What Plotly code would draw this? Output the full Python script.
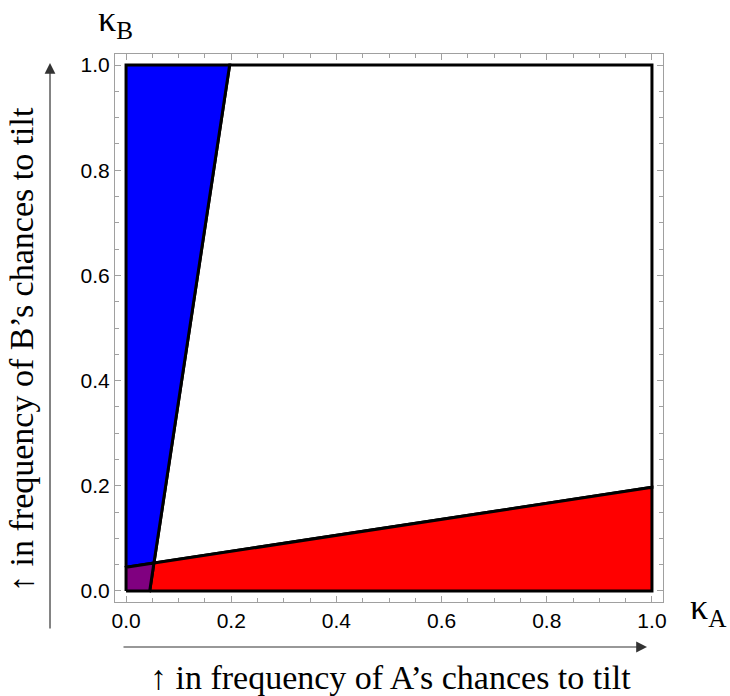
import plotly.graph_objects as go

# Region polygons (kappa_A, kappa_B)
purple_x = [0.0, 0.045, 0.053, 0.0, 0.0]
purple_y = [0.0, 0.0, 0.053, 0.045, 0.0]
blue_x = [0.0, 0.053, 0.197, 0.0, 0.0]
blue_y = [0.045, 0.053, 1.0, 1.0, 0.045]
red_x = [0.045, 1.0, 1.0, 0.053, 0.045]
red_y = [0.0, 0.0, 0.197, 0.053, 0.0]
white_x = [0.053, 0.197, 1.0, 1.0, 0.053]
white_y = [0.053, 1.0, 1.0, 0.197, 0.053]

tick_vals = [0.0, 0.2, 0.4, 0.6, 0.8, 1.0]
tick_text = ["0.0", "0.2", "0.4", "0.6", "0.8", "1.0"]

fig = go.Figure()
for xs, ys, col in [(white_x, white_y, "#FFFFFF"),
                    (blue_x, blue_y, "#0000FF"),
                    (red_x, red_y, "#FF0000"),
                    (purple_x, purple_y, "#800080")]:
    fig.add_trace(go.Scatter(x=xs, y=ys, mode="lines", fill="toself",
                             fillcolor=col, line=dict(color="black", width=3),
                             hoverinfo="skip", showlegend=False))

axis_common = dict(
    range=[-0.021, 1.021], showgrid=False, zeroline=False,
    showline=True, linecolor="#a0a0a0", linewidth=1, mirror="allticks",
    ticks="inside", ticklen=6, tickcolor="#a0a0a0", tickwidth=1,
    tickvals=tick_vals, ticktext=tick_text,
    tickfont=dict(family="Liberation Sans", size=21, color="black"),
    minor=dict(ticks="inside", ticklen=4, dtick=0.05, tick0=0,
               tickcolor="#a0a0a0", tickwidth=1, showgrid=False),
)
fig.update_xaxes(**axis_common)
fig.update_yaxes(**axis_common)

serif = dict(family="Liberation Serif", size=34, color="black")
kfont = dict(family="Liberation Serif", size=36, color="black")
fig.update_layout(
    width=730, height=696,
    margin=dict(l=115, r=67, t=54, b=94),
    plot_bgcolor="white", paper_bgcolor="white",
    hovermode=False,
    annotations=[
        dict(text="κ<sub>A</sub>", xref="paper", yref="paper", x=1.082, y=-0.013,
             showarrow=False, font=kfont, xanchor="center", yanchor="middle"),
        dict(text="κ<sub>B</sub>", xref="paper", yref="paper", x=0.0, y=1.060,
             showarrow=False, font=kfont, xanchor="center", yanchor="middle"),
        dict(text="↑ in frequency of A’s chances to tilt", xref="paper", yref="paper",
             x=0.502, y=-0.137, showarrow=False, font=serif,
             xanchor="center", yanchor="middle"),
        dict(text="↑ in frequency of B’s chances to tilt", xref="paper", yref="paper",
             x=-0.1697, y=0.46, showarrow=False, font=serif, textangle=-90,
             xanchor="center", yanchor="middle"),
        # arrows
        dict(text="", xref="paper", yref="paper", x=0.9708, y=-0.0821,
             ax=-525, ay=0, showarrow=True, arrowhead=2, arrowsize=1.8,
             arrowwidth=1.2, arrowcolor="#333333", standoff=0, startstandoff=0),
        dict(text="", xref="paper", yref="paper", x=-0.1186, y=0.9836,
             ax=0, ay=567, showarrow=True, arrowhead=2, arrowsize=1.8,
             arrowwidth=1.2, arrowcolor="#333333", standoff=0, startstandoff=0),
    ],
)

fig.write_html("out.html", config={"displayModeBar": False},
               post_script="document.body.style.margin='0';document.body.style.padding='0';")
